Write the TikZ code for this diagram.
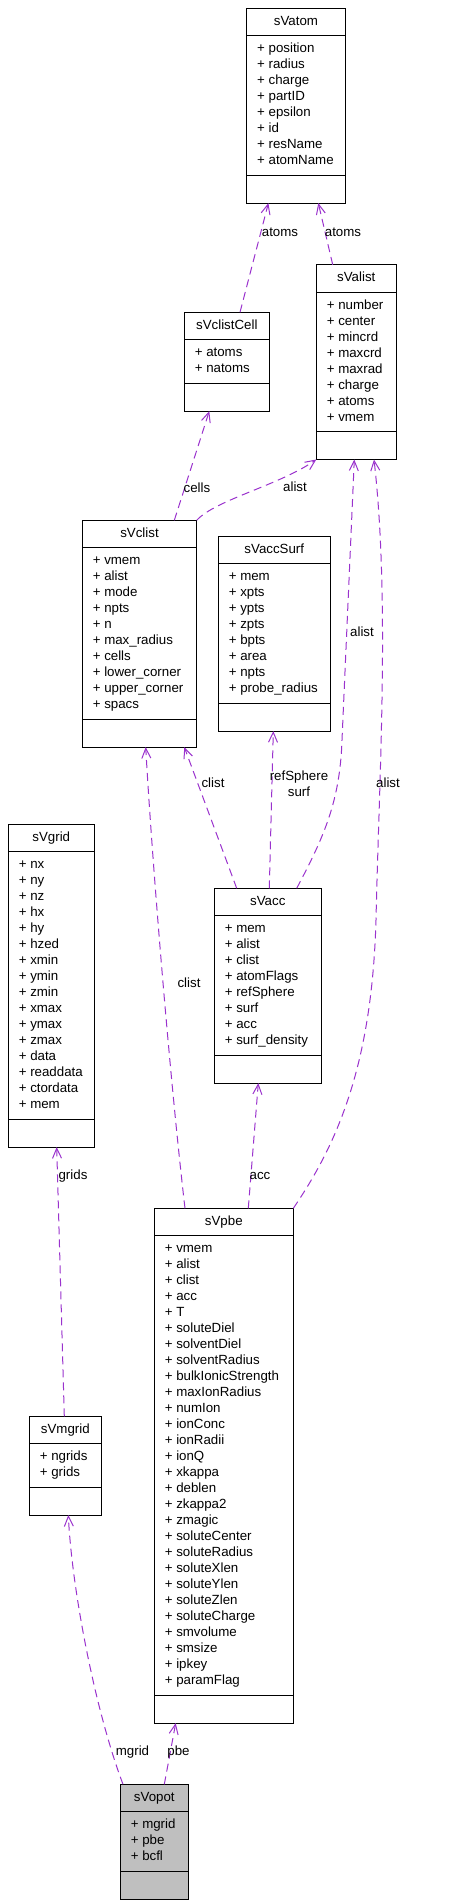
\documentclass[tikz,border=0pt]{standalone}
\usepackage{fontspec}
\setmainfont{Liberation Sans}
\usetikzlibrary{shapes.multipart,arrows.meta}
\definecolor{edgeviolet}{HTML}{9A32CD}
\definecolor{mainclass}{HTML}{BFBFBF}
\begin{document}
\begin{tikzpicture}[x=1pt, y=-1pt,
   every node/.style={font=\fontsize{13.3}{16}\selectfont},
   cls/.style={draw, line width=1pt, fill=white, rectangle split, rectangle split parts=3,
     anchor=north west, outer sep=0pt, inner xsep=10.5pt, inner ysep=5.3pt, align=flush left},
   dep/.style={draw=edgeviolet, line width=1pt, dash pattern=on 8pt off 5pt,
     -{Straight Barb[length=10pt,width=9pt]}},
   lbl/.style={inner sep=0pt, align=center}]

\useasboundingbox (0,0) rectangle (474,1903);

\node[cls, text width=77.6pt] (atom) at (246.7,8.3)
  {\strut\hfill sVatom\hfill\null
   \nodepart{two}\strut+ position\\+ radius\\+ charge\\+ partID\\+ epsilon\\+ id\\+ resName\\+ atomName\strut
   \nodepart{three}\strut};
\node[cls, text width=59pt] (alist) at (316.3,264.7)
  {\strut\hfill sValist\hfill\null
   \nodepart{two}\strut+ number\\+ center\\+ mincrd\\+ maxcrd\\+ maxrad\\+ charge\\+ atoms\\+ vmem\strut
   \nodepart{three}\strut};
\node[cls, text width=64pt] (cell) at (184.3,312.3)
  {\strut\hfill sVclistCell\hfill\null
   \nodepart{two}\strut+ atoms\\+ natoms\strut
   \nodepart{three}\strut};
\node[cls, text width=93.4pt] (clist) at (82.3,520.3)
  {\strut\hfill sVclist\hfill\null
   \nodepart{two}\strut+ vmem\\+ alist\\+ mode\\+ npts\\+ n\\+ max\_radius\\+ cells\\+ lower\_corner\\+ upper\_corner\\+ spacs\strut
   \nodepart{three}\strut};
\node[cls, text width=91pt] (surf) at (218.3,536.3)
  {\strut\hfill sVaccSurf\hfill\null
   \nodepart{two}\strut+ mem\\+ xpts\\+ ypts\\+ zpts\\+ bpts\\+ area\\+ npts\\+ probe\_radius\strut
   \nodepart{three}\strut};
\node[cls, text width=65pt] (grid) at (8.3,824.3)
  {\strut\hfill sVgrid\hfill\null
   \nodepart{two}\strut+ nx\\+ ny\\+ nz\\+ hx\\+ hy\\+ hzed\\+ xmin\\+ ymin\\+ zmin\\+ xmax\\+ ymax\\+ zmax\\+ data\\+ readdata\\+ ctordata\\+ mem\strut
   \nodepart{three}\strut};
\node[cls, text width=86pt] (acc) at (214.3,888.3)
  {\strut\hfill sVacc\hfill\null
   \nodepart{two}\strut+ mem\\+ alist\\+ clist\\+ atomFlags\\+ refSphere\\+ surf\\+ acc\\+ surf\_density\strut
   \nodepart{three}\strut};
\node[cls, text width=118pt] (pbe) at (154.3,1208.3)
  {\strut\hfill sVpbe\hfill\null
   \nodepart{two}\strut+ vmem\\+ alist\\+ clist\\+ acc\\+ T\\+ soluteDiel\\+ solventDiel\\+ solventRadius\\+ bulkIonicStrength\\+ maxIonRadius\\+ numIon\\+ ionConc\\+ ionRadii\\+ ionQ\\+ xkappa\\+ deblen\\+ zkappa2\\+ zmagic\\+ soluteCenter\\+ soluteRadius\\+ soluteXlen\\+ soluteYlen\\+ soluteZlen\\+ soluteCharge\\+ smvolume\\+ smsize\\+ ipkey\\+ paramFlag\strut
   \nodepart{three}\strut};
\node[cls, text width=51pt] (mgrid) at (29.3,1416.3)
  {\strut\hfill sVmgrid\hfill\null
   \nodepart{two}\strut+ ngrids\\+ grids\strut
   \nodepart{three}\strut};
\node[cls, fill=mainclass, text width=47pt] (opot) at (120.3,1784.3)
  {\strut\hfill sVopot\hfill\null
   \nodepart{two}\strut+ mgrid\\+ pbe\\+ bcfl\strut
   \nodepart{three}\strut};

\draw[dep] ([xshift=13.2pt]cell.north) -- ([xshift=-27.6pt]atom.south);
\draw[dep] ([xshift=-23.6pt]alist.north) -- ([xshift=22.3pt]atom.south);
\draw[dep] ([xshift=34.8pt]clist.north) -- ([xshift=-17.5pt]cell.south);
\draw[dep] (clist.north east) .. controls (215,500) and (280,485) .. (alist.south west);
\draw[dep] ([xshift=-31.1pt]acc.north) -- ([xshift=44.8pt]clist.south);
\draw[dep] ([xshift=1.5pt]acc.north) -- ([xshift=-1pt]surf.south);
\draw[dep] ([xshift=28.9pt]acc.north) .. controls (325,835) and (340,800) .. (342,740)
   -- ([xshift=-2pt]alist.south);
\draw[dep] (pbe.north east) .. controls (340,1140) and (372,1060) .. (376,920)
   .. controls (379,780) and (390,600) .. ([xshift=17.7pt]alist.south);
\draw[dep] ([xshift=-38.8pt]pbe.north) .. controls (170,1080) and (152,860) .. ([xshift=6.2pt]clist.south);
\draw[dep] ([xshift=24.5pt]pbe.north) -- ([xshift=-9.5pt]acc.south);
\draw[dep] ([xshift=-1pt]mgrid.north) -- ([xshift=5.4pt]grid.south);
\draw[dep] ([xshift=-31.3pt]opot.north) .. controls (95,1710) and (72,1590) .. ([xshift=3pt]mgrid.south);
\draw[dep] ([xshift=10pt]opot.north) -- ([xshift=-48.1pt]pbe.south);

\node[lbl] (atoms-cell) at (280,232) {atoms};
\node[lbl] (atoms-alist) at (343,232) {atoms};
\node[lbl] (cells-clist) at (197,488) {cells};
\node[lbl] (alist-clist) at (295,487) {alist};
\node[lbl] (clist-acc) at (213,783) {clist};
\node[lbl] (surf-acc) at (299,783.5) {refSphere\\surf};
\node[lbl] (alist-acc) at (362,632) {alist};
\node[lbl] (alist-pbe) at (388,783) {alist};
\node[lbl] (clist-pbe) at (189,983) {clist};
\node[lbl] (acc-pbe) at (260,1176) {acc};
\node[lbl] (grids-mgrid) at (73,1176) {grids};
\node[lbl] (mgrid-opot) at (132.5,1752) {mgrid};
\node[lbl] (pbe-opot) at (178.5,1752) {pbe};

\end{tikzpicture}
\end{document}
